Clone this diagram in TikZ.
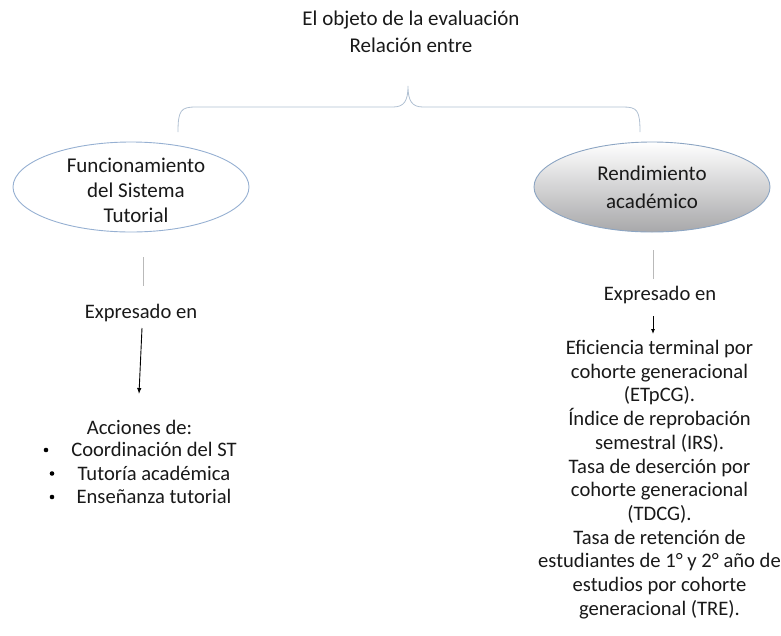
\documentclass[tikz,border=0pt]{standalone}
\usepackage{fontspec}
\setmainfont{Carlito}
\usetikzlibrary{shapes.geometric,arrows.meta}
\definecolor{braceblue}{RGB}{176,192,210}
\definecolor{ellblue}{RGB}{150,176,210}
\definecolor{ellblueR}{RGB}{140,165,195}
\definecolor{linegray}{RGB}{185,185,185}
\definecolor{shadegray}{RGB}{168,168,170}
\begin{document}
\begin{tikzpicture}[x=1pt,y=-1pt,
  txt/.style={font=\fontsize{20.6}{23.7}\selectfont, align=center, inner sep=0pt, text=black!90},
  brace/.style={draw=braceblue, line width=0.8pt},
  thinline/.style={draw=linegray, line width=0.9pt},
  arr/.style={draw=black, line width=0.9pt, -{Latex[length=6pt,width=4.5pt]}},
  ell/.style={ellipse, minimum width=236pt, minimum height=90pt, line width=0.9pt, inner sep=0pt},
  dot/.style={circle, fill=black, inner sep=0pt, minimum size=4.6pt}
]
\useasboundingbox (0,0) rectangle (781,635);
% title
\node[txt, font=\fontsize{21}{27}\selectfont] (title) at (411,31.5) {El objeto de la evaluación\\Relación entre};
% brace
\coordinate (bl) at (178,132);
\coordinate (bm) at (408,86);
\coordinate (br) at (640,132);
\draw[brace] (bl) .. controls (178,110) and (181,107) .. (196,107) -- (393,107)
  .. controls (404,107) and (408,101) .. (bm)
  .. controls (408,101) and (412,107) .. (423,107) -- (623,107)
  .. controls (637,107) and (640,110) .. (br);
% ellipses
\node[ell, draw=ellblue, fill=white] (left) at (131,187) {};
\node[ell, draw=ellblueR, left color=white, right color=shadegray, shading angle=0] (right) at (652,187) {};
\node[txt, font=\fontsize{21}{25}\selectfont] (lefttxt) at (136,190) {Funcionamiento\\del Sistema\\Tutorial};
\node[txt, font=\fontsize{21}{28}\selectfont] (righttxt) at (652,187.5) {Rendimiento\\académico};
% left column
\coordinate (l1) at (143,257);
\coordinate (l2) at (143,286);
\draw[thinline] (l1) -- (l2);
\node[txt] (lexp) at (141,313) {Expresado en};
\coordinate (la1) at (142,328);
\coordinate (la2) at (139,394);
\draw[arr] (la1) -- (la2);
\node[txt] (acc) at (139.5,427) {Acciones de:};
\node[txt, anchor=base] (b1) at (154,456.5) {Coordinación del ST};
\node[txt, anchor=base] (b2) at (154,480) {Tutoría académica};
\node[txt, anchor=base] (b3) at (154,503.5) {Enseñanza tutorial};
\node[dot] (d1) at (46,450) {};
\node[dot] (d2) at (52,473.5) {};
\node[dot] (d3) at (52,497) {};
% right column
\coordinate (r1) at (653,250);
\coordinate (r2) at (653,279);
\draw[thinline] (r1) -- (r2);
\node[txt] (rexp) at (660,295) {Expresado en};
\coordinate (ra1) at (653,316);
\coordinate (ra2) at (653,334);
\draw[arr, -{Latex[length=5pt,width=4pt]}] (ra1) -- (ra2);
\node[txt, anchor=north] (rlist) at (659.5,340) {Eficiencia terminal por\\cohorte generacional\\(ETpCG).\\Índice de reprobación\\semestral (IRS).\\Tasa de deserción por\\cohorte generacional\\(TDCG).\\Tasa de retención de\\estudiantes de 1° y 2° año de\\estudios por cohorte\\generacional (TRE).};
\end{tikzpicture}
\end{document}
